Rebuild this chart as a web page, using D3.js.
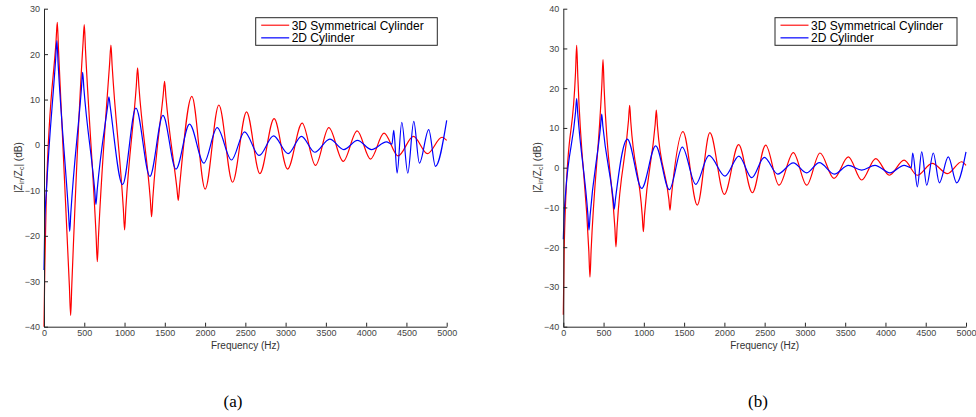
<!DOCTYPE html>
<html><head><meta charset="utf-8">
<script src="https://cdn.jsdelivr.net/npm/d3@7"></script>
<style>
html,body{margin:0;padding:0;background:#fff;}
svg{display:block;font-family:"Liberation Sans",Arial,Helvetica,sans-serif;}
</style></head>
<body>
<svg id="chart" width="976" height="417"></svg>
<script>
// ---------- DATA ----------
const seriesNames = ["3D Symmetrical Cylinder", "2D Cylinder"];
const xTicks = [0, 500, 1000, 1500, 2000, 2500, 3000, 3500, 4000, 4500, 5000];
const yTicksA = [30, 20, 10, 0, -10, -20, -30, -40];
const yTicksB = [40, 30, 20, 10, 0, -10, -20, -30, -40];
const panelLabels = ["(a)", "(b)"];

// Panel (a): frequency (Hz) / |Zin/Zc| (dB)
const freqA3D = [0,10,30,150,165,180,315,331,345,485,500,515,647,662,677,815,831,846,985,1001,1016,1146,1162,1178,1320,1336,1352,1480,1497,1514,1650,1667,1684,1836,2001,2171,2341,2515,2680,2857,3024,3205,3371,3536,3715,3888,4054,4222,4396,4587,4760,4942,5000];
const dbA3D   = [-40,-27,-10,23,27,21,-31,-37.5,-31,22.5,26.5,21,-20,-25.7,-20,18,22,17.5,-14,-18.7,-14,13,17,13,-12,-15.8,-11.5,11,14,10.5,-9.5,-12.2,-9,10.7,-9.7,8.8,-8.2,7.3,-6.3,5.8,-5.3,4.8,-4.5,3.8,-3.6,3.1,-3.1,2.6,-2.4,1.9,-1.9,1.7,1.0];
const freqA2D = [0,10,30,145,160,175,305,319,333,465,480,495,630,645,660,790,806,822,976,1141,1315,1477,1638,1807,1985,2150,2328,2490,2671,2850,3031,3197,3362,3548,3722,3892,4066,4252,4320,4343,4384,4442,4517,4591,4661,4777,4860,5000];
const dbA2D   = [-27.5,-17,-10,19,23,18,-15,-19,-15,12.5,16,12.5,-10,-13.1,-10,8.5,10.6,8.5,-8.7,8.1,-6.9,6.5,-5.3,4.6,-4.0,3.8,-3.3,2.9,-2.3,2.0,-1.9,1.9,-1.6,1.3,-1.0,1.0,-1.0,0.7,0.2,3.2,-6.2,5.0,-6.2,5.2,-4.0,3.4,-4.7,5.4];

// Panel (b)
const freqB3D = [0,10,30,152,166,180,317,331,345,479,493,507,640,654,668,810,824,838,980,994,1008,1141,1155,1169,1311,1325,1339,1486,1664,1820,1999,2177,2347,2513,2678,2856,3022,3187,3361,3539,3705,3879,4048,4231,4395,4580,4770,4945,5000];
const dbB3D   = [-37,-22,-8,24,30.8,23,-21,-27.5,-21,21,27.2,20,-15,-19.9,-15,12,15.7,11.5,-12,-16.1,-12,11,14.5,10.5,-8,-10.7,-7.8,9.1,-9.4,8.8,-6.7,5.8,-6.3,5.7,-4.4,3.8,-4.4,3.7,-2.7,2.7,-3.1,2.3,-1.9,1.9,-1.9,1.1,-1.5,1.5,0.6];
const freqB2D = [0,10,30,152,166,180,306,319,333,463,477,491,620,633,647,795,973,1147,1316,1478,1644,1809,2008,2180,2340,2496,2662,2856,3022,3179,3365,3539,3705,3870,4056,4231,4320,4338,4396,4450,4512,4594,4669,4780,4884,5000];
const dbB2D   = [-18,-12,-6,14,17.4,13.5,-12,-15.7,-12,10.5,13.5,10.5,-8,-10.4,-8,7.2,-5.2,5.5,-5.5,5.2,-4.2,3.1,-2.1,2.9,-2.5,2.6,-1.6,1.2,-1.3,1.3,-1.6,0.6,-0.6,0.6,-1.3,0.6,0.0,3.7,-4.8,4.0,-4.4,3.7,-3.8,2.7,-3.8,4.0];

const colors = ["#ff0000", "#0000ff"];

// ---------- DRAW ----------
const svg = d3.select("#chart");

const panels = [
  {x0:44, x1:446.7, yTop:8.7, yBot:326.7, yDomain:[-40,30], yTicks:yTicksA,
   series:[[freqA3D,dbA3D],[freqA2D,dbA2D]], legend:{x:255.7, y:17.7, w:181.6, h:27.6},
   label:panelLabels[0], labelX:233},
  {x0:563.3, x1:966, yTop:8.7, yBot:326.7, yDomain:[-40,40], yTicks:yTicksB,
   series:[[freqB3D,dbB3D],[freqB2D,dbB2D]], legend:{x:775, y:17.7, w:182, h:27.6},
   label:panelLabels[1], labelX:758}
];

panels.forEach(p => {
  const x = d3.scaleLinear().domain([0,5000]).range([p.x0,p.x1]);
  const y = d3.scaleLinear().domain(p.yDomain).range([p.yBot,p.yTop]);
  const g = svg.append("g");

  // lines
  p.series.forEach((s,i) => {
    const pts = s[0].map((f,k) => [f, s[1][k]]);
    g.append("path")
      .datum(pts)
      .attr("fill","none")
      .attr("stroke",colors[i])
      .attr("stroke-width",1.2)
      .attr("stroke-linejoin","round")
      .attr("d", d3.line().x(d=>x(d[0])).y(d=>y(d[1])).curve(d3.curveMonotoneX));
  });

  // axes
  const fmt = d3.format("d");
  const xAxis = d3.axisBottom(x).tickValues(xTicks).tickFormat(fmt).tickSizeInner(-4).tickSizeOuter(0).tickPadding(3);
  const yAxis = d3.axisLeft(y).tickValues(p.yTicks).tickFormat(fmt).tickSizeInner(-4).tickSizeOuter(0).tickPadding(4);
  const gx = g.append("g").attr("transform",`translate(0,${p.yBot})`).call(xAxis);
  const gy = g.append("g").attr("transform",`translate(${p.x0},0)`).call(yAxis);
  [gx,gy].forEach(a => {
    a.select(".domain").attr("stroke","#262626").attr("stroke-width",1);
    a.selectAll(".tick line").attr("stroke","#262626");
    a.selectAll("text").attr("fill","#444").style("font-size","9px")
      .style("font-family","'Liberation Sans',Arial,sans-serif");
  });

  // axis titles
  g.append("text")
    .attr("x",(p.x0+p.x1)/2).attr("y",349)
    .attr("text-anchor","middle").attr("fill","#333")
    .style("font-size","10px").text("Frequency (Hz)");

  const yl = g.append("text")
    .attr("transform",`translate(${p.x0-22},${(p.yTop+p.yBot)/2}) rotate(-90)`)
    .attr("text-anchor","middle").attr("fill","#333")
    .style("font-size","10px");
  yl.append("tspan").text("|Z");
  yl.append("tspan").attr("dy",2).style("font-size","7px").text("in");
  yl.append("tspan").attr("dy",-2).text("/Z");
  yl.append("tspan").attr("dy",2).style("font-size","7px").text("c");
  yl.append("tspan").attr("dy",-2).text("| (dB)");

  // legend
  const L = p.legend;
  const lg = g.append("g");
  lg.append("rect").attr("x",L.x).attr("y",L.y).attr("width",L.w).attr("height",L.h)
    .attr("fill","#fff").attr("stroke","#262626").attr("stroke-width",1);
  seriesNames.forEach((n,i) => {
    const cy = L.y + 7.5 + i*12.6;
    lg.append("line").attr("x1",L.x+5.5).attr("x2",L.x+33.5).attr("y1",cy).attr("y2",cy)
      .attr("stroke",colors[i]).attr("stroke-width", i===1 ? 1.6 : 1.1)
      .attr("stroke-opacity", i===1 ? 0.75 : 1);
    lg.append("text").attr("x",L.x+36).attr("y",cy+4.3)
      .attr("fill","#000").style("font-size","12px").text(n);
  });

  // panel caption
  svg.append("text").attr("x",p.labelX).attr("y",407).attr("text-anchor","middle")
    .style("font-family","'Liberation Serif','Times New Roman',serif")
    .style("font-size","17px").attr("fill","#000").text(p.label);
});
</script>
</body></html>
